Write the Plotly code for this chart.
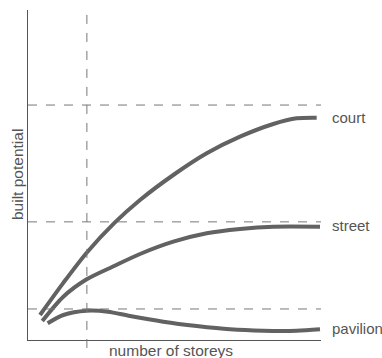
import plotly.graph_objects as go

# Data (arbitrary units: x = number of storeys scale 0-100, y = built potential 0-100)
court_x = [4.10, 12.05, 20.03, 29.59, 38.23, 49.59, 60.99, 72.35, 83.72, 91.71, 98.53]
court_y = [7.58, 17.30, 26.45, 35.55, 42.42, 50.0, 56.58, 61.61, 65.45, 67.18, 67.36]

street_x = [4.88, 12.05, 20.03, 29.59, 38.23, 49.59, 60.99, 72.35, 83.72, 99.66]
street_y = [5.76, 13.12, 18.39, 22.50, 26.06, 29.79, 32.33, 33.64, 34.33, 34.33]

pavilion_x = [6.70, 12.05, 20.03, 27.30, 34.81, 46.18, 57.58, 68.94, 80.31, 91.71, 99.66]
pavilion_y = [5.06, 7.58, 8.88, 8.58, 7.27, 5.55, 4.24, 3.24, 2.82, 2.82, 3.24]

series_names = ["court", "street", "pavilion"]
label_y = [67.4, 34.8, 3.5]
ref_levels = [71.2, 35.8, 9.4]
ref_storey = 20.1

line_col = "#626262"
text_col = "#555555"
font_family = "Liberation Sans, Arial"

fig = go.Figure()
for name, xs, ys, ly in zip(series_names, [court_x, street_x, pavilion_x],
                            [court_y, street_y, pavilion_y], label_y):
    fig.add_trace(go.Scatter(x=xs, y=ys, mode="lines", name=name,
                             line=dict(color=line_col, width=4, shape="spline", smoothing=0.8),
                             showlegend=False, hoverinfo="skip"))
    fig.add_annotation(x=1.0307, y=ly / 100, text=name, xref="paper", yref="paper",
                       xanchor="left", yanchor="middle", showarrow=False,
                       font=dict(family=font_family, size=15, color=text_col))

for lvl in ref_levels:
    fig.add_shape(type="line", xref="x", yref="y", x0=0, x1=100, y0=lvl, y1=lvl,
                  line=dict(color="#777777", width=1, dash="dash"))

fig.add_shape(type="line", xref="x", yref="paper", x0=ref_storey, x1=ref_storey, y0=-0.024, y1=1,
              line=dict(color="#777777", width=1, dash="dash"))

fig.add_annotation(x=-0.0375, y=0.5, xref="paper", yref="paper", text="built potential",
                   textangle=-90, showarrow=False, xanchor="center", yanchor="middle",
                   font=dict(family=font_family, size=15.5, color=text_col))
fig.add_annotation(x=0.487, y=-0.033, xref="paper", yref="paper", text="number of storeys",
                   showarrow=False, xanchor="center", yanchor="middle",
                   font=dict(family=font_family, size=15.5, color=text_col))

fig.update_xaxes(range=[0, 100], showline=True, linecolor="#555555", linewidth=1.3,
                 showgrid=False, zeroline=False, showticklabels=False, ticks="")
fig.update_yaxes(range=[0, 100], showline=True, linecolor="#555555", linewidth=1.3,
                 showgrid=False, zeroline=False, showticklabels=False, ticks="")

fig.update_layout(width=382, height=358, margin=dict(l=28, r=61, t=10, b=18),
                  plot_bgcolor="white", paper_bgcolor="white")

# remove the default page margin so the figure fills the window exactly
fig.write_html("out.html", config={"displayModeBar": False},
               post_script="document.body.style.margin='0';document.body.style.overflow='hidden';")
